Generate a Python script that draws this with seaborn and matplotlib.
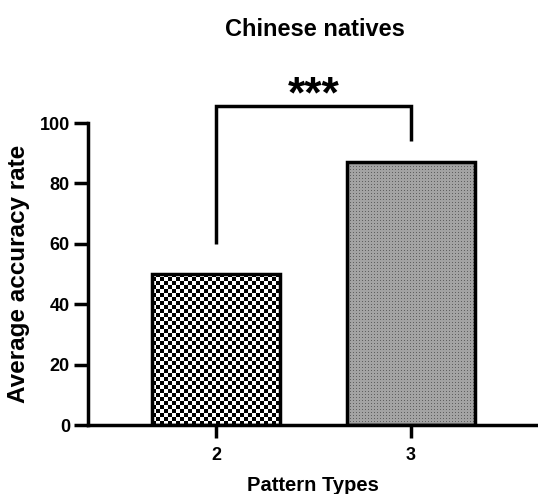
import numpy as np
import pandas as pd
import matplotlib
matplotlib.use("Agg")
import matplotlib.pyplot as plt
import seaborn as sns

# Data
pattern_types = ["2", "3"]
accuracy = [50.0, 87.0]
y_ticks = [0, 20, 40, 60, 80, 100]
chart_title = "Chinese natives"
x_label = "Pattern Types"
y_label = "Average accuracy rate"
significance = "***"
bracket_heights = [60, 105.5, 105.5, 94]

sns.set_style("ticks")
plt.rcParams["font.family"] = ["Liberation Sans", "DejaVu Sans"]
plt.rcParams["font.weight"] = "bold"
plt.rcParams["axes.labelweight"] = "bold"
plt.rcParams["text.color"] = "black"
plt.rcParams["axes.labelcolor"] = "black"
plt.rcParams["xtick.color"] = "black"
plt.rcParams["ytick.color"] = "black"
plt.rcParams["axes.edgecolor"] = "black"

W, H = 538, 494
fig = plt.figure(figsize=(W / 100, H / 100), dpi=100)
ax = fig.add_axes([88 / W, 69 / H, 450 / W, 302 / H])

df = pd.DataFrame({x_label: pattern_types, y_label: accuracy})
sns.barplot(data=df, x=x_label, y=y_label, width=0.655, color="white",
            saturation=1, edgecolor="black", linewidth=2.5, errorbar=None, ax=ax)

XLIM = (-0.656, 1.651)
YLIM = (0, 100)
ax.set_xlim(*XLIM)
ax.set_ylim(*YLIM)

# pixel scale of the data coordinates
p0 = ax.transData.transform((0, 0))
p1 = ax.transData.transform((1, 1))
px_x = p1[0] - p0[0]
px_y = p1[1] - p0[1]


def checker_texture(w_px, h_px, cell=4):
    nx = max(1, int(round(w_px / cell)))
    ny = max(1, int(round(h_px / cell)))
    jj, ii = np.meshgrid(np.arange(nx), np.arange(ny))
    v = ((ii + jj) % 2).astype(float)
    return np.dstack([v, v, v])


def dot_texture(w_px, h_px, period=3):
    nx = max(1, int(round(w_px)))
    ny = max(1, int(round(h_px)))
    jj, ii = np.meshgrid(np.arange(nx), np.arange(ny))
    v = np.full((ny, nx), 0.64)
    v[(ii % period == 0) & (jj % period == 0)] = 0.38
    return np.dstack([v, v, v])


bars = list(ax.patches)
textures = [checker_texture, dot_texture]
for bar, tex in zip(bars, textures):
    x0, y0 = bar.get_x(), bar.get_y()
    w, h = bar.get_width(), bar.get_height()
    img = tex(w * px_x, h * px_y)
    im = ax.imshow(img, extent=(x0, x0 + w, y0, y0 + h), origin="lower",
                   interpolation="nearest", aspect="auto", zorder=0.9)
    im.set_clip_path(bar)
    bar.set_facecolor("none")
    bar.set_zorder(2)

ax.set_xlim(*XLIM)
ax.set_ylim(*YLIM)

# significance bracket
ax.plot([0, 0, 1, 1], bracket_heights, color="black", lw=2.5,
        clip_on=False, solid_joinstyle="miter", solid_capstyle="butt", zorder=3)
ax.text(0.5, 105.0, significance, ha="center", va="baseline",
        fontsize=32, fontweight="bold", clip_on=False)

sns.despine(ax=ax)
ax.spines["left"].set_linewidth(2.5)
ax.spines["bottom"].set_linewidth(2.5)
ax.set_yticks(y_ticks)
ax.tick_params(axis="y", length=10, width=2.5, pad=3, labelsize=13, color="black")
ax.tick_params(axis="x", length=9, width=2.5, pad=7, labelsize=13, color="black")
for lab in ax.get_xticklabels() + ax.get_yticklabels():
    lab.set_fontweight("bold")

ax.set_xlabel(x_label, fontsize=14.5, fontweight="bold")
ax.set_ylabel(y_label, fontsize=17.5, fontweight="bold")
ax.xaxis.set_label_coords(0.5, -0.168)
ax.yaxis.set_label_coords(-0.129, 0.5)

fig.text(315 / W, 1 - 29 / H, chart_title, ha="center", va="center",
         fontsize=17, fontweight="bold")

fig.savefig("out.png", dpi=100)
